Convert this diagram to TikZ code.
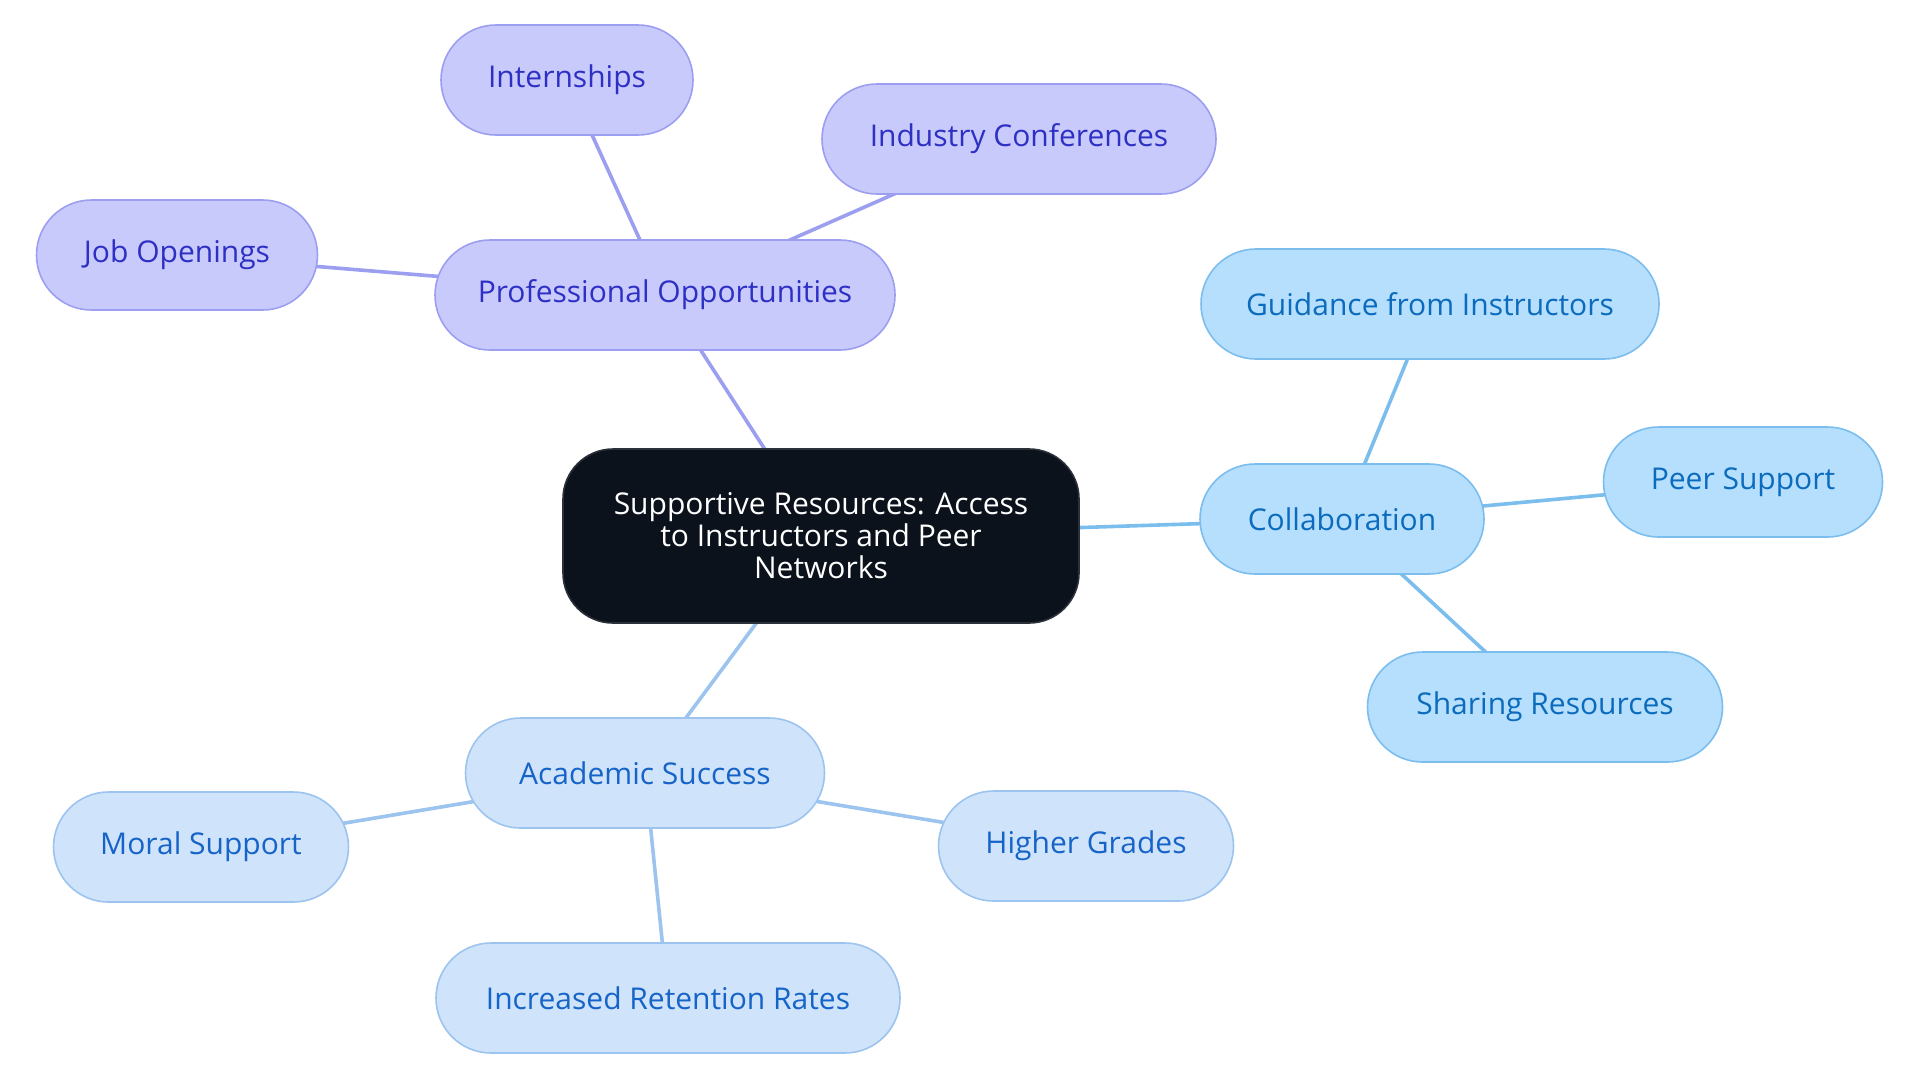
\documentclass[tikz,border=0pt]{standalone}
\usepackage{fontspec}
\setmainfont{Open Sans}
\usetikzlibrary{backgrounds}

\definecolor{rootFill}{HTML}{0C121C}
\definecolor{rootLine}{HTML}{2C3038}
\definecolor{profFill}{HTML}{C9CAFC}
\definecolor{profLine}{HTML}{9C9EF0}
\definecolor{profText}{HTML}{2E30C4}
\definecolor{collFill}{HTML}{B5DFFD}
\definecolor{collLine}{HTML}{7BBEEE}
\definecolor{collText}{HTML}{0B6BBD}
\definecolor{acadFill}{HTML}{CFE3FA}
\definecolor{acadLine}{HTML}{9CC4EF}
\definecolor{acadText}{HTML}{1664C8}

\tikzset{
	leaf/.style={draw,rounded corners=27.5pt,line width=0.8pt,minimum height=55pt,inner sep=0pt,font=\fontsize{15}{16}\selectfont},
	prof/.style={leaf,fill=profFill,draw=profLine,text=profText},
	coll/.style={leaf,fill=collFill,draw=collLine,text=collText},
	acad/.style={leaf,fill=acadFill,draw=acadLine,text=acadText},
	root/.style={draw=rootLine,fill=rootFill,text=white,rounded corners=25pt,line width=0.8pt,align=center,minimum width=258pt,minimum height=87pt,inner sep=0pt,font=\fontsize{15}{16}\selectfont},
	link/.style={line width=1.8pt}
}

\begin{document}
\begin{tikzpicture}[x=0.5pt,y=-0.5pt]
		\useasboundingbox (0,0) rectangle (1920,1083);
		\node[root] (Root) at (821,536) {Supportive Resources: Access\\to Instructors and Peer\\Networks};
		% professional branch
		\node[prof,minimum width=230pt] (Prof) at (665,295) {Professional Opportunities};
		\node[prof,minimum width=126pt] (Intern) at (567,80) {Internships};
		\node[prof,minimum width=197pt] (Conf) at (1019,139) {Industry Conferences};
		\node[prof,minimum width=140.5pt] (Jobs) at (177,255) {Job Openings};
		% collaboration branch
		\node[coll,minimum width=142pt] (Collab) at (1342,519) {Collaboration};
		\node[coll,minimum width=229pt] (Guide) at (1430,304) {Guidance from Instructors};
		\node[coll,minimum width=139.5pt] (Peer) at (1743,482) {Peer Support};
		\node[coll,minimum width=177.5pt] (Share) at (1545,707) {Sharing Resources};
		% academic branch
		\node[acad,minimum width=179.5pt] (Acad) at (645,773) {Academic Success};
		\node[acad,minimum width=147.5pt] (Moral) at (201,847) {Moral Support};
		\node[acad,minimum width=147.5pt] (Grades) at (1086,846) {Higher Grades};
		\node[acad,minimum width=232pt] (Retent) at (668,998) {Increased Retention Rates};
		\begin{scope}[on background layer]
			\draw[link,profLine] (Root.center) -- (Prof.center);
			\draw[link,profLine] (Prof.center) -- (Intern.center);
			\draw[link,profLine] (Prof.center) -- (Conf.center);
			\draw[link,profLine] (Prof.center) -- (Jobs.center);
			\draw[link,collLine] (Root.center) -- (Collab.center);
			\draw[link,collLine] (Collab.center) -- (Guide.center);
			\draw[link,collLine] (Collab.center) -- (Peer.center);
			\draw[link,collLine] (Collab.center) -- (Share.center);
			\draw[link,acadLine] (Root.center) -- (Acad.center);
			\draw[link,acadLine] (Acad.center) -- (Moral.center);
			\draw[link,acadLine] (Acad.center) -- (Grades.center);
			\draw[link,acadLine] (Acad.center) -- (Retent.center);
		\end{scope}
	\end{tikzpicture}
\end{document}
